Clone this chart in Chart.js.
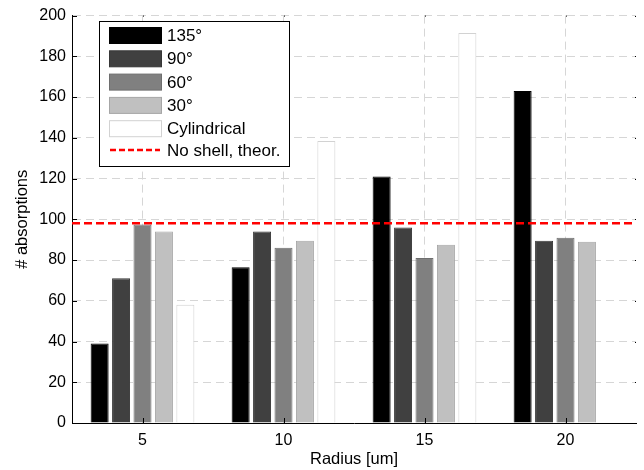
<!DOCTYPE html>
<html>
<head>
<meta charset="utf-8">
<script src="https://cdn.jsdelivr.net/npm/chart.js@4/dist/chart.umd.min.js"></script>
<style>
    body { margin: 0; background: #fff; }
    #wrap { width: 644px; height: 470px; }
</style>
</head>
<body>
<div id="wrap"><canvas id="absChart" width="644" height="470"></canvas></div>
<script>
"use strict";

// Data
var radii = ["5", "10", "15", "20"];
var angleLabels = ["135°", "90°", "60°", "30°", "Cylindrical"];
var values135 = [39, 76.5, 121, 163];
var values90 = [71, 94, 96, 89.5];
var values60 = [97.5, 86, 81, 91];
var values30 = [94, 89.5, 87.5, 89];
var valuesCyl = [58, 138.5, 191.5, 0];
var noShellLabel = "No shell, theor.";
var noShellValue = 98;
var yTicks = [0, 20, 40, 60, 80, 100, 120, 140, 160, 180, 200];

var fills = ["#000000", "#404040", "#808080", "#c0c0c0", "#ffffff"];
var borders = ["#000000", "#363636", "#6e6e6e", "#a6a6a6", "#d2d2d2"];
var fontName = "'Liberation Sans', Arial, sans-serif";

var seriesValues = [values135, values90, values60, values30, valuesCyl];

var datasets = [];
for (let i = 0; i < seriesValues.length; i++) {
    datasets.push({
        label: angleLabels[i],
        data: seriesValues[i],
        backgroundColor: fills[i],
        borderColor: borders[i],
        borderWidth: 1,
        categoryPercentage: 0.76,
        barPercentage: 0.84
    });
}

// Red theoretical line, inner ticks and boxed legend
var extrasPlugin = {
    id: "extras",
    afterDatasetsDraw: function (chart) {
        var ctx = chart.ctx;
        var area = chart.chartArea;
        var y = chart.scales.y;
        var x = chart.scales.x;

        // Inner tick marks
        ctx.save();
        ctx.strokeStyle = "#000";
        ctx.lineWidth = 1;
        ctx.beginPath();
        for (let i = 0; i < yTicks.length; i++) {
            var py = Math.round(y.getPixelForValue(yTicks[i])) + 0.5;
            ctx.moveTo(area.left, py);
            ctx.lineTo(area.left + 5, py);
            ctx.moveTo(area.right, py);
            ctx.lineTo(area.right - 1, py);
        }
        for (let i = 0; i < radii.length; i++) {
            var px = Math.round(x.getPixelForValue(i)) + 0.5;
            ctx.moveTo(px, area.bottom);
            ctx.lineTo(px, area.bottom - 5);
            ctx.moveTo(px, area.top);
            ctx.lineTo(px, area.top + 1);
        }
        ctx.stroke();

        // No shell line
        var ly = y.getPixelForValue(noShellValue);
        ctx.strokeStyle = "#ff0000";
        ctx.lineWidth = 2.5;
        ctx.setLineDash([8, 4]);
        ctx.beginPath();
        ctx.moveTo(area.left, ly);
        ctx.lineTo(area.right, ly);
        ctx.stroke();
        ctx.setLineDash([]);

        // Legend box
        var bx = 99.5, by = 21.5, bw = 190, bh = 145;
        ctx.fillStyle = "#fff";
        ctx.fillRect(bx, by, bw, bh);
        ctx.strokeStyle = "#000";
        ctx.lineWidth = 1;
        ctx.strokeRect(bx, by, bw, bh);

        ctx.font = "17px " + fontName;
        ctx.textBaseline = "middle";
        ctx.textAlign = "left";
        var rowH = 23.3;
        var top = 27.5;
        for (let i = 0; i < angleLabels.length; i++) {
            var ry = top + i * rowH;
            ctx.fillStyle = fills[i];
            ctx.fillRect(109.5, ry, 52, 16);
            ctx.strokeStyle = borders[i];
            ctx.strokeRect(109.5, ry, 52, 16);
            ctx.fillStyle = "#000";
            ctx.fillText(angleLabels[i], 167, ry + 9);
        }
        var lineY = top + 5 * rowH + 6;
        ctx.strokeStyle = "#ff0000";
        ctx.lineWidth = 2.5;
        ctx.setLineDash([6, 3]);
        ctx.beginPath();
        ctx.moveTo(110, lineY);
        ctx.lineTo(160, lineY);
        ctx.stroke();
        ctx.setLineDash([]);
        ctx.fillStyle = "#000";
        ctx.fillText(noShellLabel, 167, lineY + 1);
        ctx.restore();
    }
};

var config = {
    type: "bar",
    data: {
        labels: radii,
        datasets: datasets
    },
    options: {
        responsive: false,
        animation: false,
        layout: {
            padding: { top: 14, right: 8, left: 0, bottom: 0 }
        },
        plugins: {
            legend: { display: false },
            tooltip: { enabled: false }
        },
        scales: {
            x: {
                offset: true,
                afterFit: function (scale) { scale.height = 47; },
                grid: {
                    offset: false,
                    drawTicks: false,
                    color: "#d6d6d6",
                    lineWidth: 1
                },
                border: { display: true, color: "#000", width: 1, dash: [8, 5] },
                ticks: {
                    color: "#000",
                    padding: 8,
                    maxRotation: 0,
                    font: { family: fontName, size: 16 }
                },
                title: {
                    display: true,
                    text: "Radius [um]",
                    color: "#000",
                    padding: { top: 0, bottom: 1 },
                    font: { family: fontName, size: 16.5 }
                }
            },
            y: {
                min: 0,
                max: 200,
                afterFit: function (scale) { scale.width = 72; },
                afterBuildTicks: function (scale) {
                    scale.ticks = yTicks.map(function (v) { return { value: v }; });
                },
                grid: {
                    drawTicks: false,
                    color: "#d6d6d6",
                    lineWidth: 1
                },
                border: { display: true, color: "#000", width: 1, dash: [8, 5] },
                ticks: {
                    color: "#000",
                    padding: 6,
                    font: { family: fontName, size: 16 }
                },
                title: {
                    display: true,
                    text: "# absorptions",
                    color: "#000",
                    padding: { top: 13, bottom: 0 },
                    font: { family: fontName, size: 16.5 }
                }
            }
        }
    },
    plugins: [extrasPlugin]
};

window.onload = function () {
    var ctx = document.getElementById("absChart").getContext("2d");
    new Chart(ctx, config);
};
</script>
</body>
</html>
